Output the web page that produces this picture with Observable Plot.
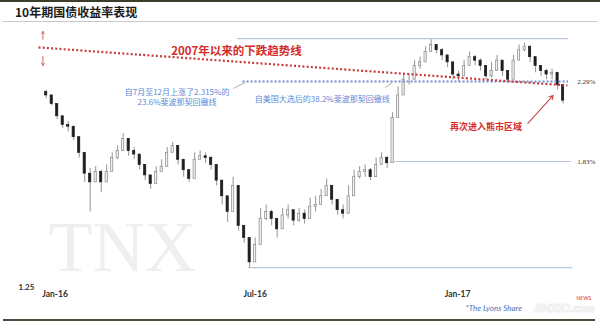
<!DOCTYPE html>
<html><head><meta charset="utf-8">
<script src="https://cdn.jsdelivr.net/npm/d3@7"></script>
<script src="https://cdn.jsdelivr.net/npm/@observablehq/plot@0.6"></script>
<style>
html,body{margin:0;padding:0;background:#fff;width:600px;height:335px;overflow:hidden;}
body{position:relative;}
#topbar{position:absolute;left:0;top:0;width:600px;height:2px;background:#3d3d2c;}
#title{position:absolute;left:15px;top:5px;font:bold 12px "Noto Sans CJK SC",sans-serif;color:#1b1b1b;line-height:14px;}
#sep{position:absolute;left:3px;top:21px;width:594px;height:1px;background:#c9c9c9;}
#chart{position:absolute;left:0;top:22px;}
#bottombar{position:absolute;left:3px;top:319px;width:592px;height:2px;background:#4b4b3b;}
</style></head><body>
<div id="topbar"></div>
<div id="title">10年期国债收益率表现</div>
<div id="sep"></div>
<div id="chart"></div>
<div id="bottombar"></div>
<script>
// TNX candles
const dates = ["2015-12-24","2015-12-29","2016-01-03","2016-01-08","2016-01-13","2016-01-18","2016-01-23","2016-01-28","2016-02-02","2016-02-07",
"2016-02-12","2016-02-17","2016-02-22","2016-02-27","2016-03-03","2016-03-08","2016-03-13","2016-03-18","2016-03-23","2016-03-28",
"2016-04-02","2016-04-07","2016-04-12","2016-04-17","2016-04-22","2016-04-27","2016-05-02","2016-05-07","2016-05-12","2016-05-17",
"2016-05-22","2016-05-27","2016-06-01","2016-06-06","2016-06-11","2016-06-16","2016-06-21","2016-06-26","2016-07-01","2016-07-06",
"2016-07-11","2016-07-16","2016-07-21","2016-07-26","2016-07-31","2016-08-05","2016-08-10","2016-08-15","2016-08-20","2016-08-25",
"2016-08-30","2016-09-04","2016-09-09","2016-09-14","2016-09-19","2016-09-24","2016-09-29","2016-10-04","2016-10-09","2016-10-14",
"2016-10-19","2016-10-24","2016-10-29","2016-11-03","2016-11-08","2016-11-13","2016-11-18","2016-11-23","2016-11-28","2016-12-03",
"2016-12-08","2016-12-13","2016-12-18","2016-12-23","2016-12-28","2017-01-02","2017-01-07","2017-01-12","2017-01-17","2017-01-22",
"2017-01-27","2017-02-01","2017-02-06","2017-02-11","2017-02-16","2017-02-21","2017-02-26","2017-03-03","2017-03-08","2017-03-13",
"2017-03-18","2017-03-23","2017-03-28","2017-04-02","2017-04-07"];
const firstOpen = 2.23;
const close = [2.21,2.16,2.09,2.04,2.03,1.97,1.88,1.76,1.71,1.77,
1.71,1.77,1.85,1.89,1.96,1.89,1.87,1.81,1.75,1.70,
1.77,1.80,1.88,1.92,1.84,1.78,1.73,1.84,1.86,1.85,
1.81,1.72,1.63,1.54,1.69,1.46,1.39,1.25,1.35,1.50,
1.54,1.50,1.44,1.52,1.55,1.49,1.53,1.50,1.57,1.58,
1.63,1.69,1.61,1.55,1.53,1.63,1.74,1.77,1.78,1.74,
1.81,1.85,1.82,2.08,2.21,2.30,2.30,2.38,2.40,2.46,
2.50,2.47,2.44,2.40,2.33,2.32,2.38,2.43,2.41,2.38,
2.32,2.35,2.41,2.35,2.30,2.41,2.47,2.49,2.43,2.38,
2.35,2.33,2.34,2.27,2.18];
const high = [2.24,2.19,2.13,2.08,2.06,2.02,1.94,1.82,1.79,1.80,
1.78,1.81,1.88,1.92,1.99,1.95,1.91,1.86,1.79,1.74,
1.80,1.84,1.91,1.94,1.88,1.82,1.78,1.88,1.89,1.88,
1.86,1.79,1.67,1.58,1.74,1.56,1.43,1.35,1.39,1.56,
1.58,1.55,1.50,1.56,1.58,1.55,1.56,1.55,1.62,1.63,
1.67,1.73,1.66,1.59,1.58,1.69,1.78,1.80,1.81,1.79,
1.85,1.88,1.86,2.11,2.26,2.33,2.33,2.41,2.43,2.49,
2.53,2.50,2.48,2.44,2.38,2.35,2.41,2.46,2.44,2.42,
2.37,2.40,2.44,2.40,2.34,2.44,2.50,2.51,2.47,2.41,
2.38,2.36,2.36,2.32,2.23];
const low = [2.19,2.15,2.07,2.02,2.00,1.95,1.85,1.71,1.54,1.73,
1.65,1.72,1.81,1.84,1.93,1.86,1.84,1.78,1.72,1.67,
1.73,1.77,1.85,1.88,1.81,1.74,1.71,1.73,1.84,1.82,
1.78,1.69,1.58,1.48,1.65,1.43,1.36,1.22,1.31,1.44,
1.49,1.46,1.39,1.48,1.50,1.46,1.48,1.47,1.53,1.54,
1.58,1.63,1.58,1.52,1.50,1.58,1.70,1.73,1.74,1.72,
1.78,1.82,1.79,1.84,2.18,2.26,2.27,2.34,2.36,2.42,
2.47,2.45,2.41,2.37,2.30,2.29,2.34,2.39,2.38,2.35,
2.30,2.31,2.38,2.32,2.28,2.38,2.43,2.46,2.40,2.34,
2.32,2.30,2.30,2.24,2.16];

// Reference lines
const trendDates = ["2015-12-17","2017-04-11"];
const trendVals = [2.486, 2.267];
const levelVals = [2.537, 2.29, 1.83, 1.22];
const levelStart = ["2016-06-15","2016-06-20","2016-11-01","2016-06-25"];
const levelEnd = ["2017-04-12","2017-04-12","2017-04-15","2017-04-16"];
const levelLabels = [2.29, 1.83];

// Axis labels
const xTicks = ["2016-01-01","2016-07-01","2017-01-01"];
const xTickLabels = ["Jan-16","Jul-16","Jan-17"];
const yMinLabel = "1.25";

// Annotations
const trendText = "2007年以来的下跌趋势线";
const fib236Text = "自7月至12月上涨了2.315%的\n23.6%斐波那契回撤线";
const fib382Text = "自美国大选后的38.2%斐波那契回撤线";
const bearText = "再次进入熊市区域";
const sourceText = "*The Lyons Share";

const D = s => new Date(s);
const candles = dates.map((d, i) => ({
  date: D(d), open: i ? close[i - 1] : firstOpen, close: close[i], high: high[i], low: low[i]
}));
const levels = levelVals.map((v, i) => ({v, x1: D(levelStart[i]), x2: D(levelEnd[i])}));
const trend = [{x1: D(trendDates[0]), y1: trendVals[0], x2: D(trendDates[1]), y2: trendVals[1]}];
const cjk = '"Noto Sans CJK SC", sans-serif';
const up = d => d.close >= d.open;

const chart = Plot.plot({
  width: 600, height: 298,
  marginTop: 0, marginBottom: 0, marginLeft: 0, marginRight: 0,
  x: {type: "utc", domain: [D("2016-01-01"), D("2017-01-01")], range: [54.5, 457], axis: null},
  y: {domain: [1.83, 2.29], range: [139, 59], axis: null},
  color: {type: "identity"},
  style: {background: "transparent", overflow: "visible", fontFamily: "Lato, sans-serif"},
  marks: [
    Plot.text(["TNX"], {frameAnchor: "bottom-left", dx: 48, dy: -50, lineAnchor: "bottom", textAnchor: "start",
      fontSize: 72, fontFamily: '"Liberation Serif", serif', fill: "#efefef"}),
    // levels
    Plot.ruleY([levels[0], levels[2], levels[3]], {y: "v", x1: "x1", x2: "x2", stroke: "#b9c7dc", strokeWidth: 1.2}),
    // candles
    Plot.ruleX(candles, {x: "date", y1: d => Math.min(d.low, d.open, d.close), y2: d => Math.max(d.high, d.open, d.close),
      stroke: "#666", strokeWidth: 0.7}),
    Plot.rect(candles, {x1: d => d3.utcHour.offset(d.date, -24), x2: d => d3.utcHour.offset(d.date, 24),
      y1: "open", y2: "close",
      fill: d => up(d) ? "#f2f2f2" : "#1e1e1e", stroke: d => up(d) ? "#8a8a8a" : "#1e1e1e", strokeWidth: 0.7}),
    // dotted fib line and trend line
    Plot.ruleY([levels[1]], {y: "v", x1: "x1", x2: "x2", stroke: "#6d8fd0", strokeWidth: 2, strokeDasharray: "2,2", strokeLinecap: "butt"}),
    Plot.link(trend, {x1: "x1", y1: "y1", x2: "x2", y2: "y2", stroke: "#c43c3c", strokeWidth: 2.2,
      strokeDasharray: "2,2.2", strokeLinecap: "butt"}),
    // left arrows
    Plot.arrow([{x: D("2015-12-21"), a: 2.532, b: 2.578}, {x: D("2015-12-21"), a: 2.434, b: 2.382}],
      {x1: "x", x2: "x", y1: "a", y2: "b", stroke: "#d66a6a", strokeWidth: 1, headLength: 4}),
    // connectors
    Plot.link([{x1: D("2016-06-11"), y1: 2.25, x2: D("2016-06-22"), y2: 2.284},
               {x1: D("2016-10-27"), y1: 2.256, x2: D("2016-11-03"), y2: 2.284}],
      {x1: "x1", y1: "y1", x2: "x2", y2: "y2", stroke: "#9a9a9a", strokeWidth: 0.8}),
    // red arrow to bear zone
    Plot.arrow([{x1: D("2017-03-06"), y1: 2.049, x2: D("2017-03-29"), y2: 2.21}],
      {x1: "x1", y1: "y1", x2: "x2", y2: "y2", stroke: "#c0504d", strokeWidth: 1.1, headLength: 6}),
    // annotations
    Plot.text([trendText], {x: D("2016-06-14"), y: 2.466, fontSize: 11.5, fontWeight: "bold", fontFamily: cjk, fill: "#d42b2b"}),
    Plot.text([fib236Text], {x: D("2016-04-21"), y: 2.201, fontSize: 8, lineHeight: 1.25, fontFamily: cjk, fill: "#5b8ad6"}),
    Plot.text([fib382Text], {x: D("2016-08-31"), y: 2.187, fontSize: 8, fontFamily: cjk, fill: "#5b8ad6"}),
    Plot.text([bearText], {x: D("2017-01-27"), y: 2.025, fontSize: 9, fontWeight: "bold", fontFamily: cjk, fill: "#d42b2b"}),
    // right labels
    Plot.text(levelLabels, {x: D("2017-04-20"), y: d => d, text: d => d.toFixed(2) + "%", textAnchor: "start",
      fontSize: 7, fontFamily: '"Liberation Serif", serif', fill: "#333"}),
    // x tick labels
    Plot.text(xTicks, {x: d => D(d), text: (d, i) => xTickLabels[i], frameAnchor: "bottom", dy: -24,
      fontSize: 8.5, fontWeight: "bold", fill: "#333"}),
    Plot.text([yMinLabel], {frameAnchor: "bottom-left", dx: 18, dy: -31, textAnchor: "start",
      fontSize: 8, fontWeight: "bold", fill: "#333"}),
    // source + watermark
    Plot.text(["JINXIO.com"], {frameAnchor: "bottom-left", dx: 533, dy: -9, textAnchor: "start",
      fontSize: 12, fontWeight: "bold", fontStyle: "italic", fill: "#f6f6f6", stroke: "#d4d4d4", strokeWidth: 0.6}),
    Plot.text(["NEWS"], {frameAnchor: "bottom-left", dx: 576, dy: -21, textAnchor: "start",
      fontSize: 5, fontWeight: "bold", fill: "#e06666"}),
    Plot.text([sourceText], {frameAnchor: "bottom-left", dx: 465, dy: -10, textAnchor: "start",
      fontSize: 8, fontStyle: "italic", fill: "#4a72b0"})
  ]
});
document.getElementById("chart").appendChild(chart);
</script>
</body></html>
